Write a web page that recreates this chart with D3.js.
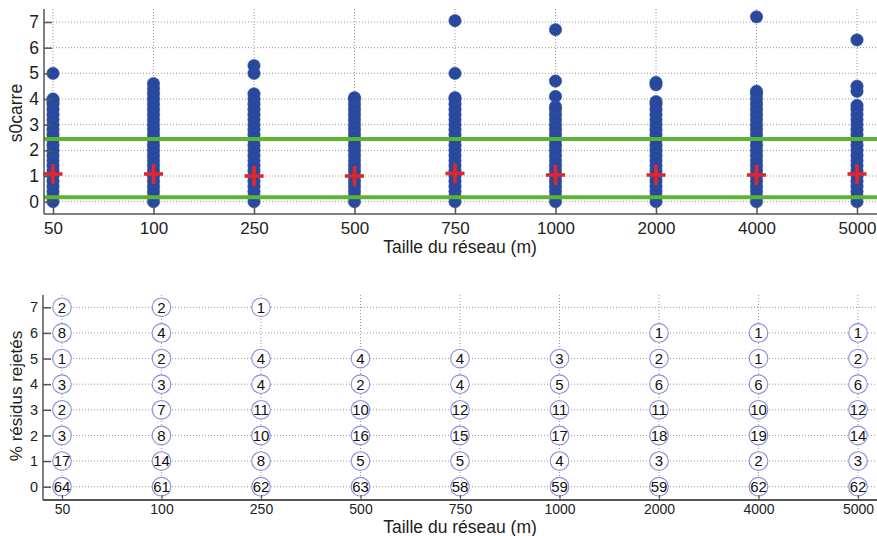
<!DOCTYPE html>
<html>
<head>
<meta charset="utf-8">
<script src="https://cdn.jsdelivr.net/npm/d3@7"></script>
<style>
  html, body { margin: 0; padding: 0; background: #fff; }
  svg { display: block; font-family: "Liberation Sans", Arial, sans-serif; }
</style>
</head>
<body>
<svg id="chart" width="877" height="536"></svg>
<script>
// Network sizes (m)
const sizes = ["50", "100", "250", "500", "750", "1000", "2000", "4000", "5000"];

// s0carre values per network size
const s50   = [0,0.2,0.4,0.6,0.8,1,1.2,1.4,1.6,1.8,2,2.2,2.4,2.6,2.8,3,3.2,3.4,3.6,3.8,3.9,4.0,5.0];
const s100  = [0,0.2,0.4,0.6,0.8,1,1.2,1.4,1.6,1.8,2,2.2,2.4,2.6,2.8,3,3.2,3.4,3.6,3.8,4.0,4.2,4.4,4.6];
const s250  = [0,0.2,0.4,0.6,0.8,1,1.2,1.4,1.6,1.8,2,2.2,2.4,2.6,2.8,3,3.2,3.4,3.6,3.8,4.0,4.2,5.0,5.3];
const s500  = [0,0.2,0.4,0.6,0.8,1,1.2,1.4,1.6,1.8,2,2.2,2.4,2.6,2.8,3,3.2,3.4,3.6,3.8,4.0,4.05];
const s750  = [0,0.2,0.4,0.6,0.8,1,1.2,1.4,1.6,1.8,2,2.2,2.4,2.6,2.8,3,3.2,3.4,3.6,3.8,4.0,4.05,5.0,7.05];
const s1000 = [0,0.2,0.4,0.6,0.8,1,1.2,1.4,1.6,1.8,2,2.2,2.4,2.6,2.8,3,3.2,3.4,3.6,3.7,4.1,4.7,6.7];
const s2000 = [0,0.2,0.4,0.6,0.8,1,1.2,1.4,1.6,1.8,2,2.2,2.4,2.6,2.8,3,3.2,3.4,3.6,3.8,3.9,4.55,4.65];
const s4000 = [0,0.2,0.4,0.6,0.8,1,1.2,1.4,1.6,1.8,2,2.2,2.4,2.6,2.8,3,3.2,3.4,3.6,3.8,4.0,4.2,4.3,7.2];
const s5000 = [0,0.2,0.4,0.6,0.8,1,1.2,1.4,1.6,1.8,2,2.2,2.4,2.6,2.8,3,3.2,3.4,3.6,3.75,4.3,4.5,6.3];
const s0carre = [s50, s100, s250, s500, s750, s1000, s2000, s4000, s5000];

// Mean s0carre per network size
const means = [1.08, 1.08, 1.0, 1.0, 1.1, 1.04, 1.04, 1.04, 1.08];

// Acceptance bounds
const bounds = [0.17, 2.44];

// Counts of networks per % of rejected residuals (rows 0..7)
const rejected = [
  [64, 17, 3, 2, 3, 1, 8, 2],
  [61, 14, 8, 7, 3, 2, 4, 2],
  [62, 8, 10, 11, 4, 4, null, 1],
  [63, 5, 16, 10, 2, 4, null, null],
  [58, 5, 15, 12, 4, 4, null, null],
  [59, 4, 17, 11, 5, 3, null, null],
  [59, 3, 18, 11, 6, 2, 1, null],
  [62, 2, 19, 10, 6, 1, 1, null],
  [62, 3, 14, 12, 6, 2, 1, null]
];

const yTicks = [0, 1, 2, 3, 4, 5, 6, 7];

const svg = d3.select("#chart");
const axisColor = "#555";
const gridColor = "#9a9a9a";
const fmtInt = d3.format("d");

// ---------- Upper panel: s0carre ----------
const boxA = { left: 44, right: 880, top: 9, bottom: 214 };
const xTop = d3.scaleLinear().domain([0, 8]).range([53, 857]);
const yTop = d3.scaleLinear().domain([0, 7]).range([201.7, 22]);

const gTop = svg.append("g");

// dotted grid
gTop.selectAll(".hgrid").data(yTicks).join("line")
  .attr("x1", boxA.left).attr("x2", boxA.right)
  .attr("y1", d => yTop(d)).attr("y2", d => yTop(d))
  .attr("stroke", gridColor).attr("stroke-width", 1).attr("stroke-dasharray", "1,2");
gTop.selectAll(".vgrid").data(sizes).join("line")
  .attr("x1", (d, i) => xTop(i)).attr("x2", (d, i) => xTop(i))
  .attr("y1", boxA.top).attr("y2", boxA.bottom)
  .attr("stroke", gridColor).attr("stroke-width", 1).attr("stroke-dasharray", "1,2");

// points
s0carre.forEach((vals, i) => {
  gTop.append("g").selectAll("circle").data(vals).join("circle")
    .attr("cx", xTop(i)).attr("cy", d => yTop(d)).attr("r", 6.2)
    .attr("fill", "#27489c").attr("stroke", "#3556a8").attr("stroke-width", 0.6);
});

// bounds
gTop.selectAll(".bound").data(bounds).join("line")
  .attr("x1", boxA.left).attr("x2", boxA.right)
  .attr("y1", d => yTop(d)).attr("y2", d => yTop(d))
  .attr("stroke", "#5cb531").attr("stroke-width", 4);

// means as red crosses
const cross = gTop.selectAll(".mean").data(means).join("g")
  .attr("transform", (d, i) => `translate(${xTop(i)},${yTop(d)})`);
cross.append("line").attr("x1", -9.5).attr("x2", 9.5).attr("y1", 0).attr("y2", 0)
  .attr("stroke", "#e3262b").attr("stroke-width", 3.6);
cross.append("line").attr("x1", 0).attr("x2", 0).attr("y1", -10).attr("y2", 10)
  .attr("stroke", "#e3262b").attr("stroke-width", 3.6);

// axes
const axTopY = gTop.append("g").attr("transform", `translate(${boxA.left},0)`)
  .call(d3.axisLeft(yTop).tickValues(yTicks).tickFormat(fmtInt).tickSize(-8).tickPadding(5).tickSizeOuter(0));
axTopY.select(".domain").remove();
axTopY.append("line").attr("x1", 0).attr("x2", 0).attr("y1", boxA.top).attr("y2", boxA.bottom)
  .attr("stroke", axisColor).attr("stroke-width", 1.5);
axTopY.selectAll(".tick line").attr("stroke", axisColor).attr("stroke-width", 1.5);
axTopY.selectAll(".tick text").attr("font-size", 17.5).attr("fill", "#222")
  .attr("font-family", "Liberation Sans, Arial, sans-serif");

const axTopX = gTop.append("g").attr("transform", `translate(0,${boxA.bottom})`)
  .call(d3.axisBottom(xTop).tickValues(d3.range(9)).tickFormat(i => sizes[i]).tickSize(-8).tickPadding(8).tickSizeOuter(0));
axTopX.select(".domain").remove();
axTopX.append("line").attr("x1", boxA.left).attr("x2", boxA.right).attr("y1", 0).attr("y2", 0)
  .attr("stroke", axisColor).attr("stroke-width", 1.5);
axTopX.selectAll(".tick line").attr("stroke", axisColor).attr("stroke-width", 1.5);
axTopX.selectAll(".tick text").attr("font-size", 17).attr("fill", "#222")
  .attr("font-family", "Liberation Sans, Arial, sans-serif");

gTop.append("text").attr("x", 460).attr("y", 253).attr("text-anchor", "middle")
  .attr("font-size", 17.5).attr("fill", "#222").text("Taille du réseau (m)");
gTop.append("text").attr("transform", "translate(22,113) rotate(-90)").attr("text-anchor", "middle")
  .attr("font-size", 17.5).attr("fill", "#222").text("s0carre");

// ---------- Lower panel: % rejected residuals ----------
const boxB = { left: 43, right: 880, top: 295, bottom: 500 };
const xBot = d3.scaleLinear().domain([0, 8]).range([62, 858]);
const yBot = d3.scaleLinear().domain([0, 7]).range([486.7, 307.3]);

const gBot = svg.append("g");

gBot.selectAll(".hgrid").data(yTicks).join("line")
  .attr("x1", boxB.left).attr("x2", boxB.right)
  .attr("y1", d => yBot(d)).attr("y2", d => yBot(d))
  .attr("stroke", gridColor).attr("stroke-width", 1).attr("stroke-dasharray", "1,2");
gBot.selectAll(".vgrid").data(sizes).join("line")
  .attr("x1", (d, i) => xBot(i)).attr("x2", (d, i) => xBot(i))
  .attr("y1", boxB.top).attr("y2", boxB.bottom)
  .attr("stroke", gridColor).attr("stroke-width", 1).attr("stroke-dasharray", "1,2");

// count bubbles
const cells = [];
rejected.forEach((col, i) => col.forEach((n, k) => { if (n !== null) cells.push({ i, k, n }); }));
const cell = gBot.selectAll(".cell").data(cells).join("g")
  .attr("transform", d => `translate(${xBot(d.i)},${yBot(d.k)})`);
cell.append("circle").attr("r", 9.3).attr("fill", "#fff")
  .attr("stroke", "#8c8ce0").attr("stroke-width", 1.1);
cell.append("text").attr("text-anchor", "middle").attr("dy", "0.36em")
  .attr("font-size", 15).attr("fill", "#111").text(d => d.n);

const axBotY = gBot.append("g").attr("transform", `translate(${boxB.left},0)`)
  .call(d3.axisLeft(yBot).tickValues(yTicks).tickFormat(fmtInt).tickSize(-8).tickPadding(5).tickSizeOuter(0));
axBotY.select(".domain").remove();
axBotY.append("line").attr("x1", 0).attr("x2", 0).attr("y1", boxB.top).attr("y2", boxB.bottom)
  .attr("stroke", axisColor).attr("stroke-width", 1.5);
axBotY.selectAll(".tick line").attr("stroke", axisColor).attr("stroke-width", 1.5);
axBotY.selectAll(".tick text").attr("font-size", 14.5).attr("fill", "#222")
  .attr("font-family", "Liberation Sans, Arial, sans-serif");

const axBotX = gBot.append("g").attr("transform", `translate(0,${boxB.bottom})`)
  .call(d3.axisBottom(xBot).tickValues(d3.range(9)).tickFormat(i => sizes[i]).tickSize(-5).tickPadding(4).tickSizeOuter(0));
axBotX.select(".domain").remove();
axBotX.append("line").attr("x1", boxB.left).attr("x2", boxB.right).attr("y1", 0).attr("y2", 0)
  .attr("stroke", axisColor).attr("stroke-width", 2);
axBotX.selectAll(".tick line").attr("stroke", axisColor).attr("stroke-width", 1.2);
axBotX.selectAll(".tick text").attr("font-size", 14).attr("fill", "#222")
  .attr("font-family", "Liberation Sans, Arial, sans-serif");

gBot.append("text").attr("x", 460).attr("y", 533).attr("text-anchor", "middle")
  .attr("font-size", 17.5).attr("fill", "#222").text("Taille du réseau (m)");
gBot.append("text").attr("transform", "translate(22,396) rotate(-90)").attr("text-anchor", "middle")
  .attr("font-size", 17).attr("fill", "#222").text("% résidus rejetés");
</script>
</body>
</html>
